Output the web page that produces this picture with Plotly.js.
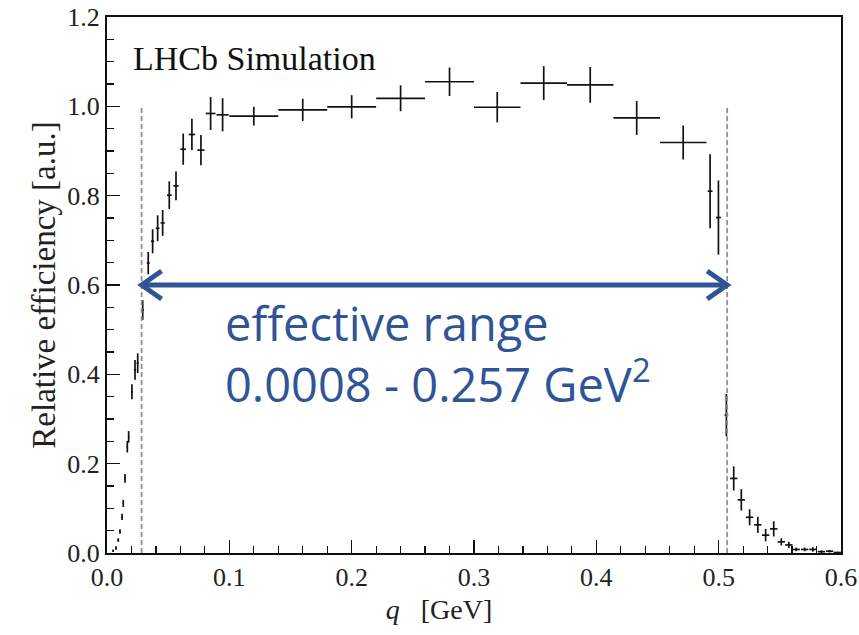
<!DOCTYPE html>
<html>
<head>
<meta charset="utf-8">
<script src="https://cdn.plot.ly/plotly-3.0.1.min.js"></script>
<style>
  html, body { margin: 0; padding: 0; background: #ffffff; }
  #chart { width: 859px; height: 635px; }
</style>
</head>
<body>
<div id="chart"></div>
<script>
// ---- data ----
// low-q points (narrow bins)
const qLow      = [0.0050, 0.0074, 0.0092, 0.0106, 0.0123, 0.0133, 0.0147, 0.0166, 0.0177, 0.0204, 0.0229, 0.0251, 0.0292, 0.0337, 0.0373, 0.0414, 0.0455, 0.0509, 0.0564, 0.0623, 0.0694, 0.0768, 0.0847, 0.0945];
const effLow    = [0.005, 0.011, 0.029, 0.048, 0.081, 0.111, 0.167, 0.238, 0.260, 0.361, 0.410, 0.425, 0.544, 0.649, 0.698, 0.727, 0.739, 0.801, 0.822, 0.904, 0.937, 0.902, 0.984, 0.981];
const effErrLow = [0.003, 0.004, 0.004, 0.005, 0.007, 0.008, 0.010, 0.013, 0.013, 0.017, 0.022, 0.022, 0.022, 0.025, 0.027, 0.029, 0.029, 0.031, 0.032, 0.035, 0.035, 0.034, 0.037, 0.037];
const qErrLow   = [0.0005, 0.0006, 0.0007, 0.0007, 0.0005, 0.0005, 0.0006, 0.0006, 0.0006, 0.0008, 0.0009, 0.0009, 0.0010, 0.0012, 0.0013, 0.0015, 0.0017, 0.0019, 0.0021, 0.0023, 0.0026, 0.0029, 0.0040, 0.0050];

// mid-q points (wide bins)
const qMid      = [0.120, 0.160, 0.200, 0.240, 0.280, 0.319, 0.357, 0.395, 0.433, 0.471];
const effMid    = [0.978, 0.992, 0.999, 1.018, 1.055, 0.998, 1.052, 1.048, 0.974, 0.919];
const effErrMid = [0.021, 0.025, 0.026, 0.029, 0.032, 0.034, 0.038, 0.040, 0.038, 0.038];
const qErrMid   = [0.020, 0.020, 0.020, 0.020, 0.020, 0.019, 0.019, 0.019, 0.019, 0.019];

// high-q points (edge and tail)
const qHigh      = [0.4930, 0.4998, 0.5063, 0.5123, 0.5185, 0.5253, 0.5320, 0.5384, 0.5450, 0.5512, 0.5574, 0.5634, 0.5703, 0.5770, 0.5840, 0.5907, 0.5970];
const effHigh    = [0.810, 0.751, 0.309, 0.167, 0.119, 0.080, 0.063, 0.040, 0.054, 0.025, 0.018, 0.008, 0.008, 0.008, 0.003, 0.004, 0.001];
const effErrHigh = [0.083, 0.083, 0.047, 0.027, 0.024, 0.018, 0.018, 0.014, 0.017, 0.008, 0.007, 0.004, 0.004, 0.005, 0.003, 0.003, 0.002];
const qErrHigh   = [0.0020, 0.0020, 0.0015, 0.0030, 0.0030, 0.0030, 0.0030, 0.0030, 0.0030, 0.0030, 0.0030, 0.0030, 0.0030, 0.0030, 0.0030, 0.0030, 0.0030];

// effective range (GeV^2) -> q limits
const rangeLabels = ["0.0008", "0.257"];
const q2Range = [0.0008, 0.257];
const qEdge = q2Range.map(v => Math.sqrt(v));
const arrowLevel = 0.6;
const dashTop = 1.0;

const xTicks = [0.0, 0.1, 0.2, 0.3, 0.4, 0.5, 0.6];
const yTicks = [0.0, 0.2, 0.4, 0.6, 0.8, 1.0, 1.2];

// ---- build ----
const q = qLow.concat(qMid, qHigh);
const eff = effLow.concat(effMid, effHigh);
const effErr = effErrLow.concat(effErrMid, effErrHigh);
const qErr = qErrLow.concat(qErrMid, qErrHigh);

const blue = '#2F5597';
const serif = 'Liberation Serif, Times New Roman, serif';

const trace = {
  x: q, y: eff, type: 'scatter', mode: 'markers',
  marker: { size: 1, color: 'rgba(0,0,0,0)' },
  error_y: { type: 'data', array: effErr, visible: true, color: '#111', thickness: 1.7, width: 0 },
  error_x: { type: 'data', array: qErr, visible: true, color: '#111', thickness: 1.7, width: 0 },
  hoverinfo: 'skip', showlegend: false
};

const shapes = [];
qEdge.forEach(v => {
  shapes.push({ type: 'line', xref: 'x', yref: 'y', x0: v, x1: v, y0: 0, y1: dashTop,
    line: { color: '#8f8f8f', width: 1.8, dash: '5px,3px' } });
});
// arrow shaft
shapes.push({ type: 'line', xref: 'x', yref: 'y', x0: qEdge[0], x1: qEdge[1], y0: arrowLevel, y1: arrowLevel,
  line: { color: blue, width: 5 } });
// arrow heads (open chevrons, in pixels relative to the ends)
shapes.push({ type: 'path', xref: 'x', yref: 'y', xsizemode: 'pixel', ysizemode: 'pixel',
  xanchor: qEdge[0], yanchor: arrowLevel, path: 'M 20 14 L 0 0 L 20 -14',
  line: { color: blue, width: 5 } });
shapes.push({ type: 'path', xref: 'x', yref: 'y', xsizemode: 'pixel', ysizemode: 'pixel',
  xanchor: qEdge[1], yanchor: arrowLevel, path: 'M -20 14 L 0 0 L -20 -14',
  line: { color: blue, width: 5 } });

const annotations = [
  { xref: 'x', yref: 'y', x: 0.0195, y: 1.108, xanchor: 'left', yanchor: 'middle', showarrow: false,
    text: 'LHCb Simulation', font: { family: serif, size: 34, color: '#111' } },
  { xref: 'x', yref: 'y', x: 0.095, y: 0.446, xanchor: 'left', yanchor: 'middle', showarrow: false, align: 'left',
    text: 'effective range<br>' + rangeLabels[0] + ' - ' + rangeLabels[1] + ' GeV<sup>2</sup>',
    font: { family: 'Open Sans, Noto Sans, sans-serif', size: 47, color: blue } }
];

const axisCommon = {
  showgrid: false, zeroline: false, showline: true, linecolor: '#111', linewidth: 2, mirror: true,
  ticks: 'inside', ticklen: 13, tickwidth: 1.5, tickcolor: '#111',
  tickfont: { family: serif, size: 26, color: '#222' }
};

const layout = {
  width: 859, height: 635,
  margin: { l: 107, r: 18, t: 17, b: 82 },
  paper_bgcolor: '#ffffff', plot_bgcolor: '#ffffff',
  xaxis: Object.assign({}, axisCommon, {
    range: [0, 0.6], tickvals: xTicks, ticktext: xTicks.map(v => v.toFixed(1)),
    minor: { dtick: 0.02, ticklen: 7, tickwidth: 1.2, tickcolor: '#111', ticks: 'inside' },
    title: { text: '<i>q</i>&nbsp;&nbsp;&nbsp;[GeV]&nbsp;&nbsp;&nbsp;&nbsp;&nbsp;&nbsp;&nbsp;&nbsp;&nbsp;&nbsp;', font: { family: serif, size: 28, color: '#222' }, standoff: 8 }
  }),
  yaxis: Object.assign({}, axisCommon, {
    range: [0, 1.2], tickvals: yTicks, ticktext: yTicks.map(v => v.toFixed(1)),
    minor: { dtick: 0.05, ticklen: 7, tickwidth: 1.2, tickcolor: '#111', ticks: 'inside' },
    title: { text: 'Relative efficiency [a.u.]', font: { family: serif, size: 33, color: '#222' }, standoff: 2 }
  }),
  shapes: shapes,
  annotations: annotations
};

Plotly.newPlot('chart', [trace], layout, { displayModeBar: false, staticPlot: true });
</script>
</body>
</html>
